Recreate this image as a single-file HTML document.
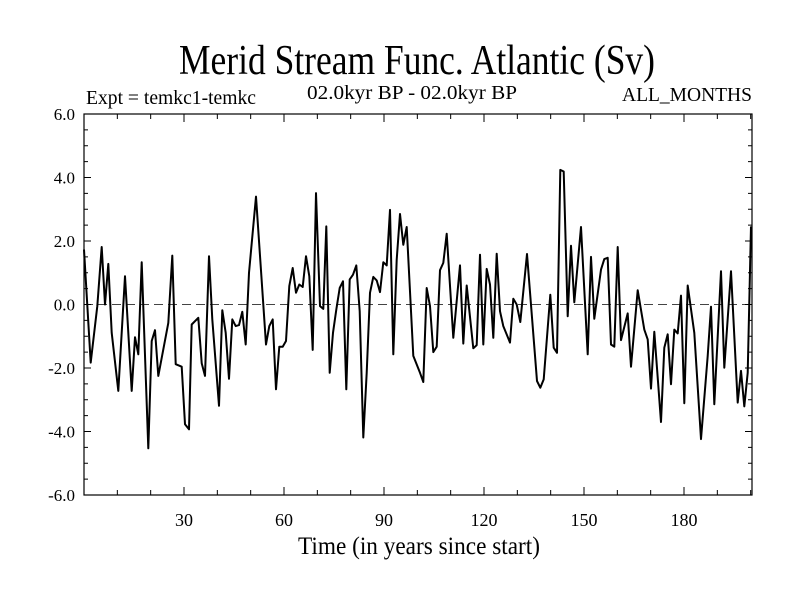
<!DOCTYPE html>
<html><head><meta charset="utf-8"><style>
html,body{margin:0;padding:0;background:#fff;width:800px;height:600px;overflow:hidden}
text{font-family:"Liberation Serif",serif;fill:#000}
</style></head><body>
<svg id="chart" width="800" height="600" xmlns="http://www.w3.org/2000/svg">
<text x="179" y="74" font-size="42" textLength="476" lengthAdjust="spacingAndGlyphs">Merid Stream Func. Atlantic (Sv)</text>
<text x="86" y="104" font-size="20" textLength="170" lengthAdjust="spacingAndGlyphs">Expt = temkc1-temkc</text>
<text x="307" y="99" font-size="20" textLength="210" lengthAdjust="spacingAndGlyphs">02.0kyr BP - 02.0kyr BP</text>
<text x="622" y="101" font-size="20" textLength="130" lengthAdjust="spacingAndGlyphs">ALL_MONTHS</text>
<text x="298" y="554" font-size="25" textLength="242" lengthAdjust="spacingAndGlyphs">Time (in years since start)</text>
<g id="axes"></g>
<g id="series"></g>
</svg>
<script>
const years=[0,2,4,5.3,6.3,7.3,8.3,10.3,12.3,14.3,15.3,16.3,17.3,19.3,20.3,21.3,22.3,25.3,26.5,27.5,29.3,30.3,31.5,32.3,34.3,35.3,36.3,37.5,38.5,40.5,41.5,42.5,43.5,44.5,45.5,46.5,47.5,48.5,49.5,51.6,54.6,55.6,56.6,57.6,58.6,59.6,60.6,61.6,62.6,63.6,64.6,65.6,66.6,67.6,68.6,69.6,70.8,71.8,72.7,73.7,74.7,75.7,76.7,77.7,78.7,79.7,80.7,81.7,82.7,83.8,84.8,85.8,86.8,87.8,88.8,89.8,90.8,91.8,92.8,93.8,94.8,95.8,96.8,98.8,100.8,101.8,102.8,103.8,104.8,105.8,106.8,107.8,108.8,110.8,112.8,113.8,114.8,116.8,117.8,118.8,119.8,120.8,121.8,122.8,123.8,124.8,125.8,127.8,128.8,129.8,130.9,132.9,135.9,136.9,137.9,139.9,140.9,141.9,142.9,143.9,145.1,146.1,147.1,149.1,151.1,152.1,153.1,155.1,156.1,157.1,158.1,159.1,160.1,161.1,163.1,164.1,166.1,168.1,169.1,170.1,171.1,173.1,174.1,175.1,176.1,177.1,178.1,179.1,180.1,181.1,183.1,185.1,187.1,188.1,189.1,191.1,192.1,194.1,196.1,197.1,198.1,199.1,200.1];
const values=[1.73,-1.83,-0.05,1.81,0,1.28,-0.89,-2.72,0.89,-2.72,-1.03,-1.57,1.33,-4.53,-1.15,-0.81,-2.25,-0.58,1.54,-1.88,-1.96,-3.77,-3.93,-0.63,-0.42,-1.85,-2.25,1.52,-0.47,-3.19,-0.18,-0.89,-2.34,-0.47,-0.68,-0.65,-0.23,-1.26,1.0,3.40,-1.26,-0.68,-0.47,-2.67,-1.33,-1.33,-1.15,0.58,1.15,0.37,0.63,0.55,1.52,0.89,-1.43,3.51,-0.05,-0.14,2.46,-2.15,-0.89,-0.16,0.52,0.73,-2.67,0.79,0.94,1.23,-0.21,-4.19,-2.15,0.37,0.87,0.76,0.39,1.33,1.23,2.98,-1.57,1.41,2.85,1.88,2.44,-1.62,-2.15,-2.44,0.52,-0.05,-1.5,-1.33,1.08,1.31,2.23,-1.05,1.23,-1.23,0.6,-1.38,-1.28,1.57,-1.26,1.12,0.63,-1.05,1.6,-0.21,-0.68,-1.2,0.18,0,-0.55,1.59,-2.41,-2.62,-2.36,0.31,-1.36,-1.52,4.24,4.19,-0.37,1.85,0.07,2.44,-1.57,1.5,-0.45,1.1,1.43,1.47,-1.26,-1.33,1.81,-1.12,-0.28,-1.96,0.45,-0.79,-1.1,-2.65,-0.86,-3.7,-1.36,-0.94,-2.51,-0.79,-0.91,0.28,-3.11,0.6,-0.89,-4.24,-1.62,-0.07,-3.14,1.05,-1.99,1.05,-3.09,-2.09,-3.21,-2.15,2.46];
const yTicks=[-6,-4,-2,0,2,4,6];
const yTickLabels=["-6.0","-4.0","-2.0","0.0","2.0","4.0","6.0"];
const xTicks=[30,60,90,120,150,180];
const xTickLabels=["30","60","90","120","150","180"];
const L=84,R=752,T=114,B=495,XMAX=200.4;
const NS="http://www.w3.org/2000/svg";
function xs(v){return L+v/XMAX*(R-L);}
function ys(v){return B-(v+6)/12*(B-T);}
function mk(tag,attrs,parent){const e=document.createElementNS(NS,tag);for(const k in attrs)e.setAttribute(k,attrs[k]);parent.appendChild(e);return e;}
const ax=document.getElementById('axes');
const frame=mk('rect',{x:L,y:T,width:R-L,height:B-T,fill:'none',stroke:'#000','stroke-width':1.2},ax);


const zl=mk('line',{x1:L,x2:R,y1:ys(0),y2:ys(0),stroke:'#444','stroke-width':1,'stroke-dasharray':'9,5'},ax);


for(let v=-6;v<=6.001;v+=0.5){const major=Math.abs(v%2)<0.01;const len=major?7:4;
 mk('line',{x1:L,x2:L+len,y1:ys(v),y2:ys(v),stroke:'#000'},ax);
 mk('line',{x1:R,x2:R-len,y1:ys(v),y2:ys(v),stroke:'#000'},ax);}
for(let v=10;v<XMAX;v+=10){const major=v%30===0;const len=major?8:5;
 mk('line',{x1:xs(v),x2:xs(v),y1:B,y2:B-len,stroke:'#000'},ax);
 mk('line',{x1:xs(v),x2:xs(v),y1:T,y2:T+len,stroke:'#000'},ax);}
yTicks.forEach((v,i)=>{const t=mk('text',{x:75,y:ys(v)+6,'font-size':17,'text-anchor':'end'},ax);t.textContent=yTickLabels[i];
 
 });
xTicks.forEach((v,i)=>{const t=mk('text',{x:xs(v),y:526,'font-size':18,'text-anchor':'middle'},ax);t.textContent=xTickLabels[i];
 
 });
const d=years.map((y,i)=>(i?'L':'M')+xs(y).toFixed(1)+','+ys(values[i]).toFixed(1)).join(' ');
const p=mk('path',{d:d,fill:'none',stroke:'#000','stroke-width':2,'stroke-linejoin':'round'},document.getElementById('series'));


</script>
</body></html>
